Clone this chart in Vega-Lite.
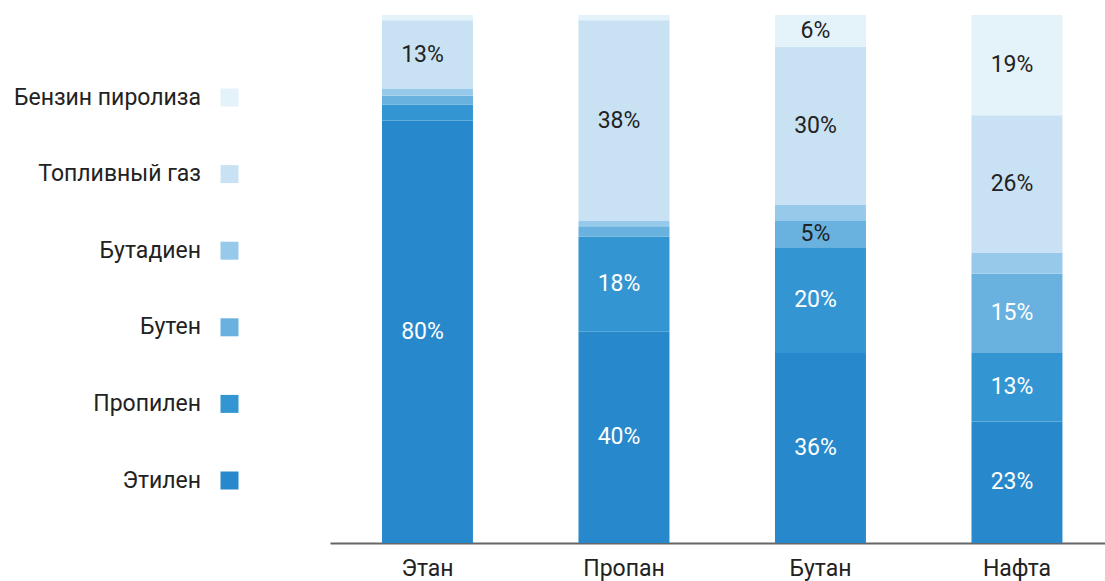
{
  "$schema": "https://vega.github.io/schema/vega-lite/v6.json",
  "width": 775,
  "height": 528,
  "autosize": {"type": "none"},
  "padding": {"left": 330, "top": 15, "right": 0, "bottom": 38},
  "config": {"view": {"stroke": null}, "font": "Roboto"},
  "data": {
    "values": [
      {"feed": "Этан", "component": "Этилен", "value": 80},
      {"feed": "Этан", "component": "Пропилен", "value": 3},
      {"feed": "Этан", "component": "Бутен", "value": 1.7},
      {"feed": "Этан", "component": "Бутадиен", "value": 1.3},
      {"feed": "Этан", "component": "Топливный газ", "value": 13},
      {"feed": "Этан", "component": "Бензин пиролиза", "value": 1},
      {"feed": "Пропан", "component": "Этилен", "value": 40},
      {"feed": "Пропан", "component": "Пропилен", "value": 18},
      {"feed": "Пропан", "component": "Бутен", "value": 2},
      {"feed": "Пропан", "component": "Бутадиен", "value": 1},
      {"feed": "Пропан", "component": "Топливный газ", "value": 38},
      {"feed": "Пропан", "component": "Бензин пиролиза", "value": 1},
      {"feed": "Бутан", "component": "Этилен", "value": 36},
      {"feed": "Бутан", "component": "Пропилен", "value": 20},
      {"feed": "Бутан", "component": "Бутен", "value": 5},
      {"feed": "Бутан", "component": "Бутадиен", "value": 3},
      {"feed": "Бутан", "component": "Топливный газ", "value": 30},
      {"feed": "Бутан", "component": "Бензин пиролиза", "value": 6},
      {"feed": "Нафта", "component": "Этилен", "value": 23},
      {"feed": "Нафта", "component": "Пропилен", "value": 13},
      {"feed": "Нафта", "component": "Бутен", "value": 15},
      {"feed": "Нафта", "component": "Бутадиен", "value": 4},
      {"feed": "Нафта", "component": "Топливный газ", "value": 26},
      {"feed": "Нафта", "component": "Бензин пиролиза", "value": 19}
    ]
  },
  "transform": [
    {"calculate": "indexof(['Бензин пиролиза','Топливный газ','Бутадиен','Бутен','Пропилен','Этилен'], datum.component)", "as": "ord"},
    {"stack": "value", "groupby": ["feed"], "sort": [{"field": "ord", "order": "ascending"}], "as": ["v0", "v1"]},
    {"calculate": "(datum.v0 + datum.v1) / 2", "as": "mid"},
    {"calculate": "datum.value + '%'", "as": "label"}
  ],
  "encoding": {
    "x": {
      "field": "feed",
      "type": "nominal",
      "sort": ["Этан", "Пропан", "Бутан", "Нафта"],
      "scale": {"paddingInner": 0.537, "paddingOuter": 0.2405, "align": 0.55},
      "axis": {
        "title": null,
        "labelAngle": 0,
        "labelFontSize": 23,
        "labelColor": "#222222",
        "labelPadding": 14,
        "ticks": false,
        "grid": false,
        "domainColor": "#666666",
        "domainWidth": 2
      }
    }
  },
  "layer": [
    {
      "mark": {"type": "bar"},
      "encoding": {
        "y": {"field": "v0", "type": "quantitative", "scale": {"domain": [0, 100], "reverse": true, "nice": false}, "axis": null},
        "y2": {"field": "v1"},
        "color": {
          "field": "component",
          "type": "nominal",
          "scale": {
            "domain": ["Бензин пиролиза", "Топливный газ", "Бутадиен", "Бутен", "Пропилен", "Этилен"],
            "range": ["#E4F2FA", "#C9E2F3", "#97CAEA", "#69B1DF", "#3396D3", "#2789CB"]
          },
          "legend": {
            "orient": "none",
            "legendX": -112,
            "legendY": 71,
            "title": null,
            "symbolType": "square",
            "symbolSize": 324,
            "symbolStrokeWidth": 0,
            "labelAlign": "right",
            "labelOffset": -40,
            "labelFontSize": 23,
            "labelColor": "#222222",
            "labelLimit": 400,
            "rowPadding": 52.6
          }
        }
      }
    },
    {
      "transform": [{"filter": "datum.value >= 5"}],
      "mark": {"type": "text", "fontSize": 23, "dx": -5, "baseline": "middle"},
      "encoding": {
        "y": {"field": "mid", "type": "quantitative"},
        "text": {"field": "label"},
        "color": {
          "condition": {"test": "datum.component === 'Этилен' || datum.component === 'Пропилен' || (datum.component === 'Бутен' && datum.value >= 10)", "value": "#ffffff"},
          "value": "#222222"
        }
      }
    }
  ]
}
